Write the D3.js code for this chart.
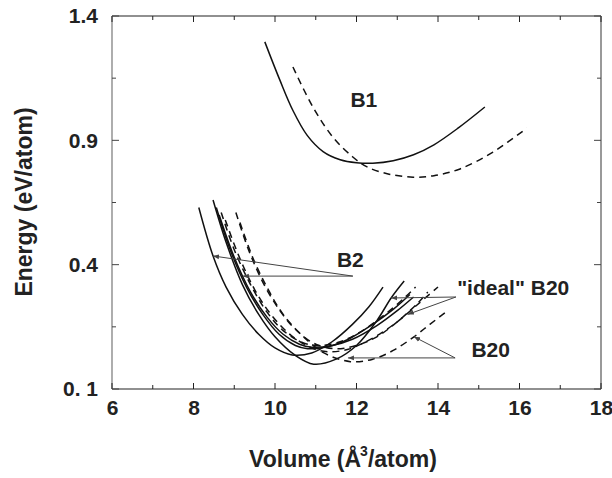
<!DOCTYPE html>
<html><head><meta charset="utf-8">
<script src="https://cdn.jsdelivr.net/npm/d3@7"></script>
<style>body{margin:0;background:#fff}svg{display:block}</style>
</head><body><svg id="c" width="612" height="478"></svg>
<script>
const xTicks = [6, 8, 10, 12, 14, 16, 18];
const yTickValues = [-0.1, 0.4, 0.9, 1.4];
const yTickLabels = ["0. 1", "0.4", "0.9", "1.4"];

// B1 curves
const b1Solid = [[9.75,1.296],[10.12,1.142],[10.44,1.02],[10.79,0.92],[11.18,0.855],[11.6,0.822],[12.0,0.81],[12.4,0.808],[12.9,0.818],[13.4,0.842],[13.9,0.882],[14.5,0.95],[15.15,1.034]];
const b1Dashed = [[10.44,1.195],[10.93,1.034],[11.42,0.913],[11.91,0.833],[12.26,0.793],[12.8,0.764],[13.39,0.752],[13.9,0.758],[14.54,0.785],[15.35,0.853],[16.18,0.949]];

// lower cluster, solid
const lowSolidA = [[8.13,0.63],[8.48,0.435],[8.8,0.31],[9.2,0.2],[9.6,0.12],[10.0,0.065],[10.42,0.037],[10.9,0.045],[11.4,0.09],[11.9,0.16],[12.3,0.23],[12.65,0.31]];
const lowSolidB = [[8.48,0.66],[8.8,0.49],[9.2,0.32],[9.6,0.2],[10.0,0.11],[10.5,0.035],[10.95,0.0],[11.5,0.02],[12.0,0.075],[12.5,0.175],[12.85,0.266],[13.17,0.334]];
const lowSolidC = [[8.56,0.63],[8.9,0.46],[9.3,0.31],[9.7,0.2],[10.1,0.12],[10.5,0.075],[10.8,0.062],[11.3,0.07],[11.8,0.1],[12.4,0.16],[12.9,0.22],[13.31,0.28]];
const lowSolidD = [[8.63,0.60],[9.0,0.43],[9.4,0.29],[9.8,0.19],[10.2,0.12],[10.6,0.08],[10.9,0.068],[11.4,0.075],[11.9,0.1],[12.5,0.155],[13.0,0.215],[13.4,0.27]];

// lower cluster, dashed
const lowDashA = [[8.68,0.61],[9.0,0.46],[9.4,0.32],[9.8,0.21],[10.2,0.135],[10.7,0.085],[11.1,0.075],[11.6,0.09],[12.1,0.13],[12.7,0.2],[13.2,0.27],[13.45,0.31]];
const lowDashB = [[8.78,0.58],[9.1,0.44],[9.5,0.3],[9.9,0.2],[10.4,0.115],[10.9,0.065],[11.3,0.05],[11.8,0.06],[12.4,0.105],[13.0,0.17],[13.5,0.24],[14.0,0.31]];
const lowDashC = [[9.04,0.61],[9.35,0.46],[9.7,0.33],[10.1,0.22],[10.5,0.14],[11.0,0.08],[11.5,0.062],[12.0,0.075],[12.5,0.11],[13.0,0.17],[13.5,0.245],[13.75,0.29]];
const lowDashD = [[9.14,0.57],[9.45,0.43],[9.8,0.31],[10.2,0.2],[10.7,0.11],[11.2,0.045],[11.85,0.01],[12.4,0.02],[12.9,0.055],[13.41,0.11],[13.8,0.16],[14.2,0.21]];

const solidCurves = [b1Solid, lowSolidA, lowSolidB, lowSolidC, lowSolidD];
const dashedCurves = [b1Dashed, lowDashA, lowDashB, lowDashC, lowDashD];

const labels = [
  {text: "B1", at: [11.85, 1.034]},
  {text: "B2", at: [11.52, 0.39]},
  {text: "\"ideal\" B20", at: [14.47, 0.278]},
  {text: "B20", at: [14.82, 0.029]}
];
const arrows = [
  {from: [11.91, 0.354], to: [8.48, 0.435]},
  {from: [11.91, 0.354], to: [9.21, 0.354]},
  {from: [14.44, 0.27], to: [12.85, 0.266]},
  {from: [14.44, 0.27], to: [13.26, 0.2]},
  {from: [14.42, 0.025], to: [11.79, 0.025]},
  {from: [14.42, 0.025], to: [13.41, 0.11]}
];

const svg = d3.select("#c");
const W = 612, H = 478;
const m = {l: 112, r: 11, t: 16, b: 89};
const x = d3.scaleLinear().domain([6, 18]).range([m.l, W - m.r]);
const y = d3.scaleLinear().domain([-0.1, 1.4]).range([H - m.b, m.t]);
const font = "'Liberation Sans', Arial, Helvetica, sans-serif";

const defs = svg.append("defs");
defs.append("marker").attr("id", "ah").attr("viewBox", "0 0 10 10").attr("refX", 10).attr("refY", 5)
  .attr("markerWidth", 6).attr("markerHeight", 6).attr("markerUnits", "userSpaceOnUse").attr("orient", "auto")
  .append("path").attr("d", "M0,1 L10,5 L0,9 Z").attr("fill", "#444");

const g = svg.append("g");
g.append("line").attr("x1", x(6)).attr("x2", x(18)).attr("y1", y(1.4)).attr("y2", y(1.4)).attr("stroke", "#222").attr("stroke-width", 1.2);
g.append("line").attr("x1", x(6)).attr("x2", x(18)).attr("y1", y(-0.1)).attr("y2", y(-0.1)).attr("stroke", "#222").attr("stroke-width", 1.2);
g.append("line").attr("x1", x(6)).attr("x2", x(6)).attr("y1", y(-0.1)).attr("y2", y(1.4)).attr("stroke", "#777").attr("stroke-width", 1.2);
g.append("line").attr("x1", x(18)).attr("x2", x(18)).attr("y1", y(-0.1)).attr("y2", y(1.4)).attr("stroke", "#555").attr("stroke-width", 1.2);

const xAll = d3.range(6, 18.01, 1);
xAll.forEach(v => {
  const len = (v % 2 === 0) ? 6 : 4;
  g.append("line").attr("x1", x(v)).attr("x2", x(v)).attr("y1", y(-0.1)).attr("y2", y(-0.1) - len).attr("stroke", "#222");
  g.append("line").attr("x1", x(v)).attr("x2", x(v)).attr("y1", y(1.4)).attr("y2", y(1.4) + len).attr("stroke", "#222");
});
const yAll = d3.range(-0.1, 1.41, 0.25);
yAll.forEach((v, i) => {
  const len = (i % 2 === 0) ? 7 : 4;
  g.append("line").attr("x1", x(6)).attr("x2", x(6) + len).attr("y1", y(v)).attr("y2", y(v)).attr("stroke", "#444");
  g.append("line").attr("x1", x(18)).attr("x2", x(18) - len).attr("y1", y(v)).attr("y2", y(v)).attr("stroke", "#444");
});

const xAxis = d3.axisBottom(x).tickValues(xTicks).tickSize(0).tickPadding(11).tickFormat(d3.format("d"));
const xa = svg.append("g").attr("transform", `translate(0,${y(-0.1)})`).call(xAxis);
xa.select(".domain").remove();
xa.selectAll("text").attr("font-family", font).attr("font-size", 21).attr("font-weight", "bold").attr("fill", "#222");

const yAxis = d3.axisLeft(y).tickValues(yTickValues).tickSize(0).tickPadding(14).tickFormat((d, i) => yTickLabels[i]);
const ya = svg.append("g").attr("transform", `translate(${x(6)},0)`).call(yAxis);
ya.select(".domain").remove();
ya.selectAll("text").attr("font-family", font).attr("font-size", 21).attr("font-weight", "bold").attr("fill", "#222");

const xt = svg.append("text").attr("x", 343).attr("y", 467).attr("text-anchor", "middle")
  .attr("font-family", font).attr("font-size", 23).attr("font-weight", "bold").attr("fill", "#222");
xt.append("tspan").text("Volume (Å");
xt.append("tspan").attr("dy", -11).attr("dx", -1).attr("font-size", 14).text("3");
xt.append("tspan").attr("dy", 11).text("/atom)");

svg.append("text").attr("transform", "translate(32,202) rotate(-90)").attr("text-anchor", "middle")
  .attr("font-family", font).attr("font-size", 23).attr("font-weight", "bold").attr("fill", "#222")
  .text("Energy (eV/atom)");

const line = d3.line().x(d => x(d[0])).y(d => y(d[1])).curve(d3.curveCatmullRom.alpha(0.5));
solidCurves.forEach(c => svg.append("path").attr("d", line(c)).attr("fill", "none").attr("stroke", "#111").attr("stroke-width", 1.5));
dashedCurves.forEach(c => svg.append("path").attr("d", line(c)).attr("fill", "none").attr("stroke", "#111").attr("stroke-width", 1.5).attr("stroke-dasharray", "7,5"));

arrows.forEach(a => svg.append("line").attr("x1", x(a.from[0])).attr("y1", y(a.from[1])).attr("x2", x(a.to[0])).attr("y2", y(a.to[1]))
  .attr("stroke", "#444").attr("stroke-width", 1).attr("marker-end", "url(#ah)"));

labels.forEach(l => svg.append("text").attr("x", x(l.at[0])).attr("y", y(l.at[1])).attr("font-family", font)
  .attr("font-size", 21).attr("font-weight", "bold").attr("fill", "#222").attr("text-anchor", "start").text(l.text));
</script></body></html>
